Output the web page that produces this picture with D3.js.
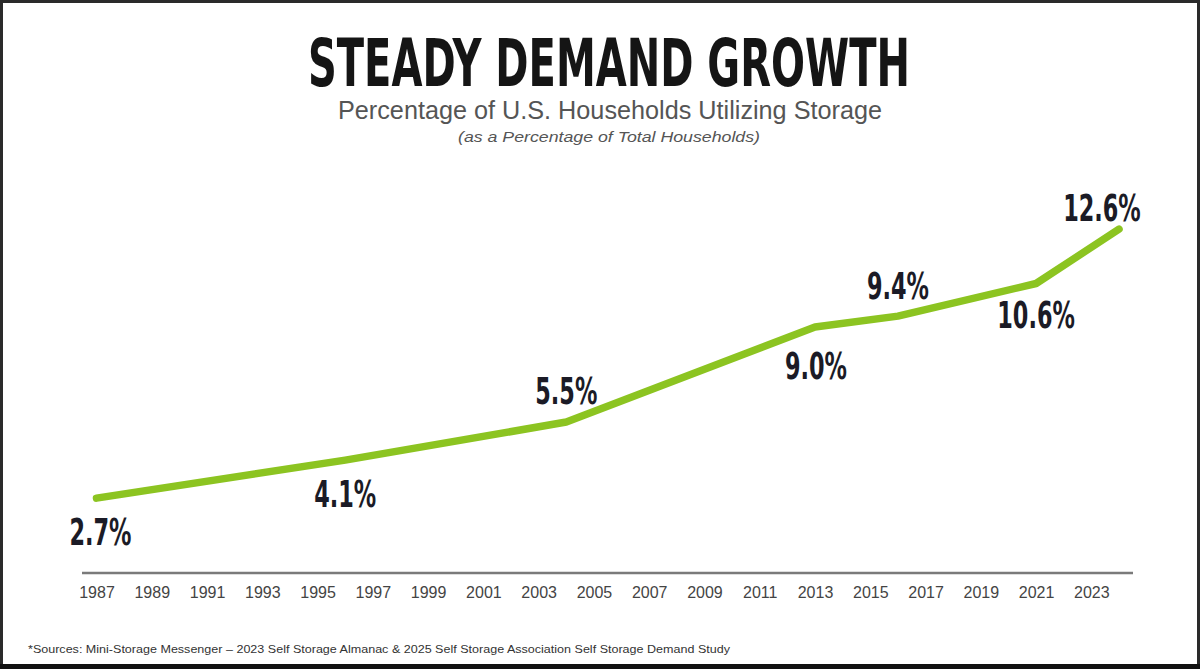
<!DOCTYPE html>
<html>
<head>
<meta charset="utf-8">
<script src="https://cdn.jsdelivr.net/npm/d3@7"></script>
<style>
  html, body { margin: 0; padding: 0; background: #fff; }
  svg { display: block; }
</style>
</head>
<body>
<svg id="chart" width="1200" height="669"></svg>
<script>
// data
const years = [1987, 1996, 2004, 2013, 2016, 2021, 2024];
const shares = [2.7, 4.1, 5.5, 9.0, 9.4, 10.6, 12.6];
const shareLabels = ['2.7%', '4.1%', '5.5%', '9.0%', '9.4%', '10.6%', '12.6%'];
const tickYears = d3.range(1987, 2024, 2);

// label placement relative to its point (dx, dy to baseline)
const LABEL_OFFSET = [[4, 47], [0, 47], [0, -18], [1, 52], [0, -17], [0, 45], [-17, -8]];

const W = 1200, H = 669;
const svg = d3.select('#chart');
const COND = '"DejaVu Sans Condensed", "Liberation Sans Narrow", "DejaVu Sans", sans-serif';
const SANS = '"Liberation Sans", Arial, sans-serif';

// frame
svg.append('rect').attr('x', 1.5).attr('y', 1.5).attr('width', W - 3).attr('height', H - 3)
  .attr('fill', '#fff').attr('stroke', '#2a2a2a').attr('stroke-width', 3);
svg.append('rect').attr('x', 0).attr('y', H - 5).attr('width', W).attr('height', 5).attr('fill', '#111');

// squeeze text horizontally to a target width (stands in for the condensed display face)
function fit(sel, width) {
  sel.attr('textLength', width).attr('lengthAdjust', 'spacingAndGlyphs');
}

const title = svg.append('text').attr('x', 609).attr('y', 86).attr('text-anchor', 'middle')
  .attr('font-family', COND).attr('font-weight', 'bold').attr('font-size', 66).attr('fill', '#151515')
  .text('STEADY DEMAND GROWTH');
fit(title, 602);

const sub = svg.append('text').attr('x', 610).attr('y', 119).attr('text-anchor', 'middle')
  .attr('font-family', SANS).attr('font-size', 25).attr('fill', '#555')
  .text('Percentage of U.S. Households Utilizing Storage');
fit(sub, 544);

const sub2 = svg.append('text').attr('x', 609).attr('y', 142).attr('text-anchor', 'middle')
  .attr('font-family', SANS).attr('font-style', 'italic').attr('font-size', 15).attr('fill', '#555')
  .text('(as a Percentage of Total Households)');
fit(sub2, 302);

// scales
const x = d3.scaleLinear().domain([1987, 2024]).range([96.5, 1119]);
const y = d3.scaleLinear().domain([0, 14]).range([571.5, 571.5 - 14 * 27.17]);

// axis: baseline rule + year labels, no ticks
const axis = d3.axisBottom(x).tickValues(tickYears).tickFormat(d3.format('d')).tickSize(0).tickPadding(0);
const gAxis = svg.append('g').attr('transform', 'translate(0,573)').call(axis);
gAxis.select('.domain').remove();
gAxis.selectAll('text').attr('font-family', SANS).attr('font-size', 16).attr('fill', '#444').attr('dy', null).attr('y', 25);
svg.append('line').attr('x1', 82).attr('x2', 1133).attr('y1', 573).attr('y2', 573)
  .attr('stroke', '#7a7a7a').attr('stroke-width', 2.5);

// line
const pts = years.map((yr, i) => [yr, shares[i]]);
svg.append('path').datum(pts)
  .attr('d', d3.line().x((d) => x(d[0])).y((d) => y(d[1])))
  .attr('fill', 'none').attr('stroke', '#8cc421').attr('stroke-width', 7.5)
  .attr('stroke-linecap', 'round').attr('stroke-linejoin', 'round');

// value labels
const labels = svg.append('g').selectAll('text').data(pts).join('text')
  .attr('x', (d, i) => x(d[0]) + LABEL_OFFSET[i][0])
  .attr('y', (d, i) => y(d[1]) + LABEL_OFFSET[i][1])
  .attr('text-anchor', 'middle')
  .attr('font-family', COND).attr('font-weight', 'bold').attr('font-size', 38).attr('fill', '#1b1b26')
  .text((d, i) => shareLabels[i]);
// reference "2.7%" is ~62px wide; scale the rest by the same ratio
const k = 62 / labels.nodes()[0].getComputedTextLength();
labels.each(function () { fit(d3.select(this), this.getComputedTextLength() * k); });

// footnote
const foot = svg.append('text').attr('x', 28).attr('y', 653)
  .attr('font-family', SANS).attr('font-size', 10.5).attr('fill', '#333')
  .text('*Sources: Mini-Storage Messenger \u2013 2023 Self Storage Almanac & 2025 Self Storage Association Self Storage Demand Study');
fit(foot, 702);
</script>
</body>
</html>
